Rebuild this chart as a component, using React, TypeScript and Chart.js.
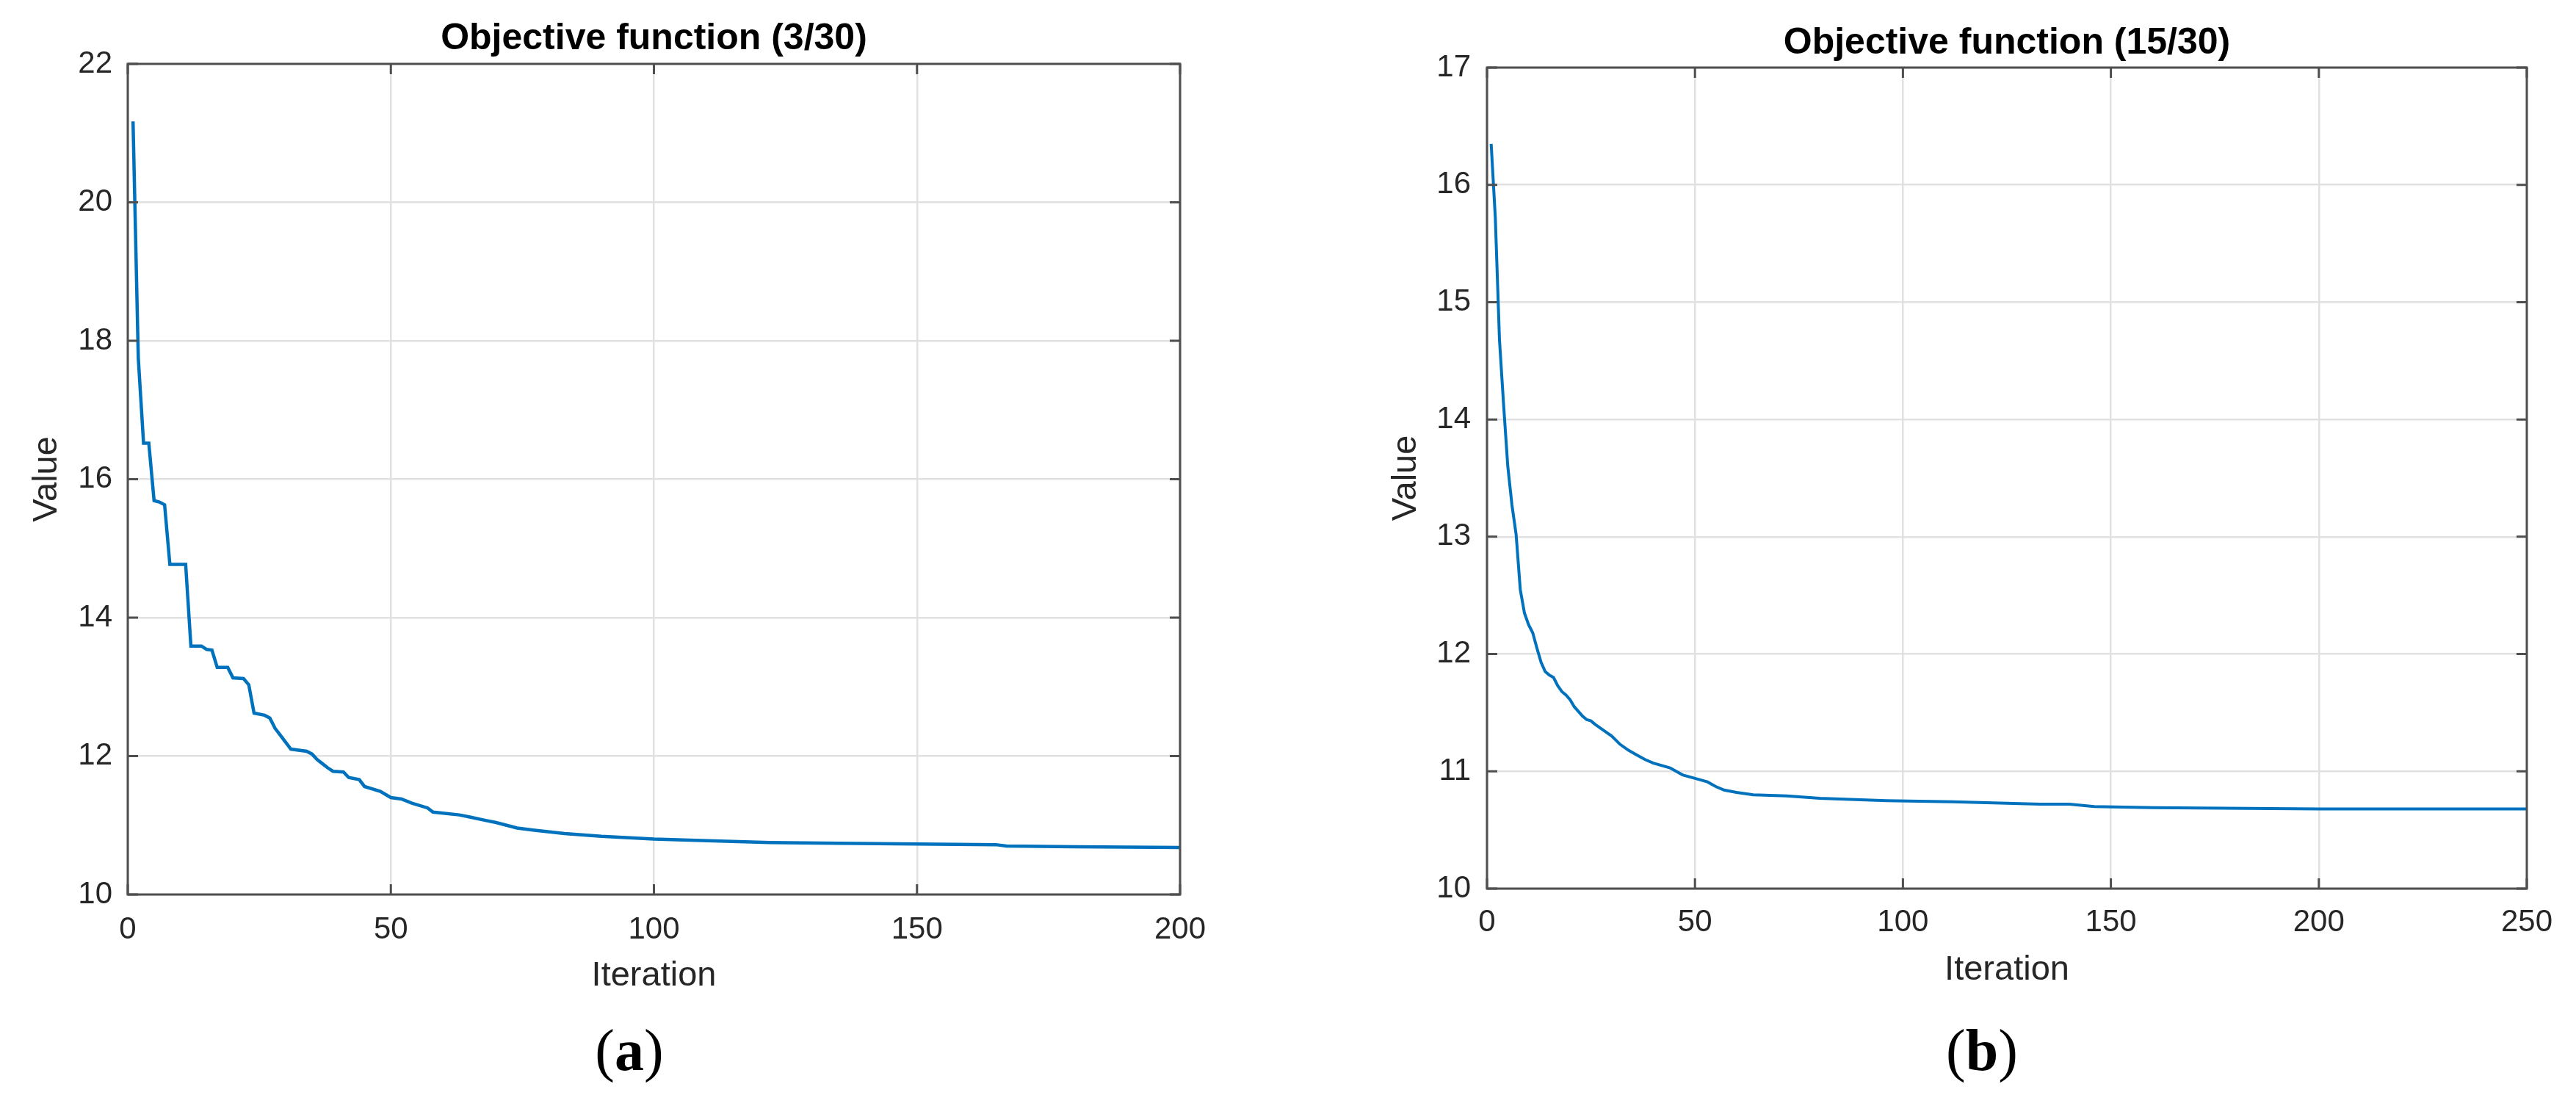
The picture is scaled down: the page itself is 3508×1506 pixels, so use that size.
import React, { useEffect, useRef } from "react";
import { Chart, registerables } from "chart.js";

Chart.register(...registerables);

// ---------- data (a) ----------
const iterationsA = [1, 2, 3, 4, 5, 6, 7, 8, 11, 12, 14, 15, 16, 17, 19, 20, 22, 23, 24, 26, 27, 28, 29, 30, 31, 34, 35, 36, 37, 38, 39, 41, 42, 44, 45, 48, 50, 52, 54, 57, 58, 63, 65, 68, 70, 74, 77, 83, 90, 100, 109, 122, 135, 150, 165, 167, 180, 200];
const valuesA = [21.17, 17.75, 16.52, 16.52, 15.69, 15.67, 15.63, 14.77, 14.77, 13.59, 13.59, 13.54, 13.53, 13.28, 13.28, 13.13, 13.12, 13.03, 12.62, 12.59, 12.55, 12.4, 12.3, 12.2, 12.1, 12.07, 12.03, 11.95, 11.89, 11.83, 11.78, 11.77, 11.69, 11.66, 11.56, 11.49, 11.4, 11.38, 11.32, 11.25, 11.19, 11.15, 11.12, 11.07, 11.04, 10.96, 10.93, 10.88, 10.84, 10.8, 10.78, 10.75, 10.74, 10.73, 10.72, 10.7, 10.69, 10.68];
const xTicksA = [0, 50, 100, 150, 200];
const yTicksA = [10, 12, 14, 16, 18, 20, 22];
const titleA = "Objective function (3/30)";

// ---------- data (b) ----------
const iterationsB = [1, 2, 3, 4, 5, 6, 7, 8, 9, 10, 11, 12, 13, 14, 15, 16, 17, 18, 19, 20, 21, 22, 23, 24, 25, 26, 28, 30, 32, 34, 36, 38, 40, 44, 47, 50, 53, 55, 57, 60, 64, 72, 80, 96, 112, 133, 140, 146, 160, 177, 200, 250];
const valuesB = [16.35, 15.72, 14.68, 14.12, 13.6, 13.27, 13.02, 12.55, 12.35, 12.25, 12.18, 12.05, 11.93, 11.85, 11.82, 11.8, 11.73, 11.68, 11.65, 11.61, 11.55, 11.51, 11.47, 11.44, 11.43, 11.4, 11.35, 11.3, 11.23, 11.18, 11.14, 11.1, 11.07, 11.03, 10.97, 10.94, 10.91, 10.87, 10.84, 10.82, 10.8, 10.79, 10.77, 10.75, 10.74, 10.72, 10.72, 10.7, 10.69, 10.685, 10.68, 10.68];
const xTicksB = [0, 50, 100, 150, 200, 250];
const yTicksB = [10, 11, 12, 13, 14, 15, 16, 17];
const titleB = "Objective function (15/30)";

const SANS = "'Liberation Sans', Arial, Helvetica, sans-serif";
const LINE_COLOR = "#0072BD";
const FRAME_COLOR = "#4f4f4f";
const TEXT_COLOR = "#262626";
const GRID_COLOR = "#e1e1e1";

const framePlugin = {
  id: "matlabFrame",
  afterDatasetsDraw(chart: any) {
    const { ctx, chartArea, scales } = chart;
    const { left, right, top, bottom } = chartArea;
    const TL = 14;
    ctx.save();
    ctx.strokeStyle = FRAME_COLOR;
    ctx.lineWidth = 3;
    ctx.beginPath();
    scales.x.ticks.forEach((t: any) => {
      const px = scales.x.getPixelForValue(t.value);
      ctx.moveTo(px, bottom);
      ctx.lineTo(px, bottom - TL);
      ctx.moveTo(px, top);
      ctx.lineTo(px, top + TL);
    });
    scales.y.ticks.forEach((t: any) => {
      const py = scales.y.getPixelForValue(t.value);
      ctx.moveTo(left, py);
      ctx.lineTo(left + TL, py);
      ctx.moveTo(right, py);
      ctx.lineTo(right - TL, py);
    });
    ctx.stroke();
    ctx.strokeRect(left, top, right - left, bottom - top);
    ctx.restore();
  },
};

type Panel = {
  iters: number[];
  values: number[];
  xTicks: number[];
  yTicks: number[];
  title: string;
  padLeft: number;
  padRight: number;
  padBottom: number;
  titleTop: number;
  titleBottom: number;
  xTickPad: number;
  yTickPad: number;
  lineWidth: number;
};

function makeConfig(p: Panel): any {
  return {
    type: "line",
    data: {
      datasets: [
        {
          data: p.iters.map((x, i) => ({ x, y: p.values[i] })),
          borderColor: LINE_COLOR,
          borderWidth: p.lineWidth,
          pointRadius: 0,
          tension: 0,
          fill: false,
        },
      ],
    },
    options: {
      animation: false,
      responsive: false,
      maintainAspectRatio: false,
      layout: { padding: { left: p.padLeft, right: p.padRight, top: 0, bottom: p.padBottom } },
      plugins: {
        legend: { display: false },
        tooltip: { enabled: false },
        title: {
          display: true,
          text: p.title,
          fullSize: false,
          color: "#000000",
          font: { family: SANS, size: 50, weight: "bold", lineHeight: 1.2 },
          padding: { top: p.titleTop, bottom: p.titleBottom },
        },
      },
      scales: {
        x: {
          type: "linear",
          min: p.xTicks[0],
          max: p.xTicks[p.xTicks.length - 1],
          afterBuildTicks: (s: any) => {
            s.ticks = p.xTicks.map((v) => ({ value: v }));
          },
          afterFit: (s: any) => {
            s.height = 150;
          },
          grid: { color: GRID_COLOR, lineWidth: 2.5, drawTicks: false },
          border: { display: false },
          ticks: {
            color: TEXT_COLOR,
            padding: p.xTickPad,
            maxRotation: 0,
            autoSkip: false,
            font: { family: SANS, size: 42, lineHeight: 1.2 },
          },
          title: {
            display: true,
            text: "Iteration",
            color: TEXT_COLOR,
            font: { family: SANS, size: 47, lineHeight: 1.2 },
            padding: { top: 0, bottom: 11 },
          },
        },
        y: {
          type: "linear",
          min: p.yTicks[0],
          max: p.yTicks[p.yTicks.length - 1],
          afterBuildTicks: (s: any) => {
            s.ticks = p.yTicks.map((v) => ({ value: v }));
          },
          afterFit: (s: any) => {
            s.width = 174;
          },
          grid: { color: GRID_COLOR, lineWidth: 2.5, drawTicks: false },
          border: { display: false },
          ticks: {
            color: TEXT_COLOR,
            padding: p.yTickPad,
            autoSkip: false,
            font: { family: SANS, size: 42, lineHeight: 1.2 },
          },
          title: {
            display: true,
            text: "Value",
            color: TEXT_COLOR,
            font: { family: SANS, size: 47, lineHeight: 1.2 },
            padding: { top: 36, bottom: 0 },
          },
        },
      },
    },
    plugins: [framePlugin],
  };
}

function PanelChart({ panel, left }: { panel: Panel; left: number }) {
  const ref = useRef<HTMLCanvasElement | null>(null);
  useEffect(() => {
    if (!ref.current) return;
    const chart = new Chart(ref.current, makeConfig(panel));
    return () => chart.destroy();
  }, [panel]);
  return (
    <canvas
      ref={ref}
      width={1754}
      height={1506}
      style={{ position: "absolute", left, top: 0, width: 1754, height: 1506 }}
    />
  );
}

const panelA: Panel = {
  iters: iterationsA,
  values: valuesA,
  xTicks: xTicksA,
  yTicks: yTicksA,
  title: titleA,
  padLeft: 0,
  padRight: 147,
  padBottom: 138,
  titleTop: 23,
  titleBottom: 4,
  xTickPad: 23,
  yTickPad: 21,
  lineWidth: 4.5,
};

const panelB: Panel = {
  iters: iterationsB,
  values: valuesB,
  xTicks: xTicksB,
  yTicks: yTicksB,
  title: titleB,
  padLeft: 97,
  padRight: 67,
  padBottom: 146,
  titleTop: 29,
  titleBottom: 3,
  xTickPad: 21,
  yTickPad: 22,
  lineWidth: 4,
};

function SubLabel({ letter, center }: { letter: string; center: number }) {
  return (
    <div
      style={{
        position: "absolute",
        left: center - 200,
        top: 1390,
        width: 400,
        textAlign: "center",
        fontFamily: "'Liberation Serif', 'Times New Roman', serif",
        fontSize: 80,
        lineHeight: "80px",
        color: "#000",
      }}
    >
      (<b>{letter}</b>)
    </div>
  );
}

export default function App() {
  return (
    <div
      style={{
        position: "absolute",
        left: 0,
        top: 0,
        width: 3508,
        height: 1506,
        background: "#ffffff",
        overflow: "hidden",
      }}
    >
      <PanelChart panel={panelA} left={0} />
      <PanelChart panel={panelB} left={1754} />
      <SubLabel letter="a" center={857} />
      <SubLabel letter="b" center={2699} />
    </div>
  );
}
